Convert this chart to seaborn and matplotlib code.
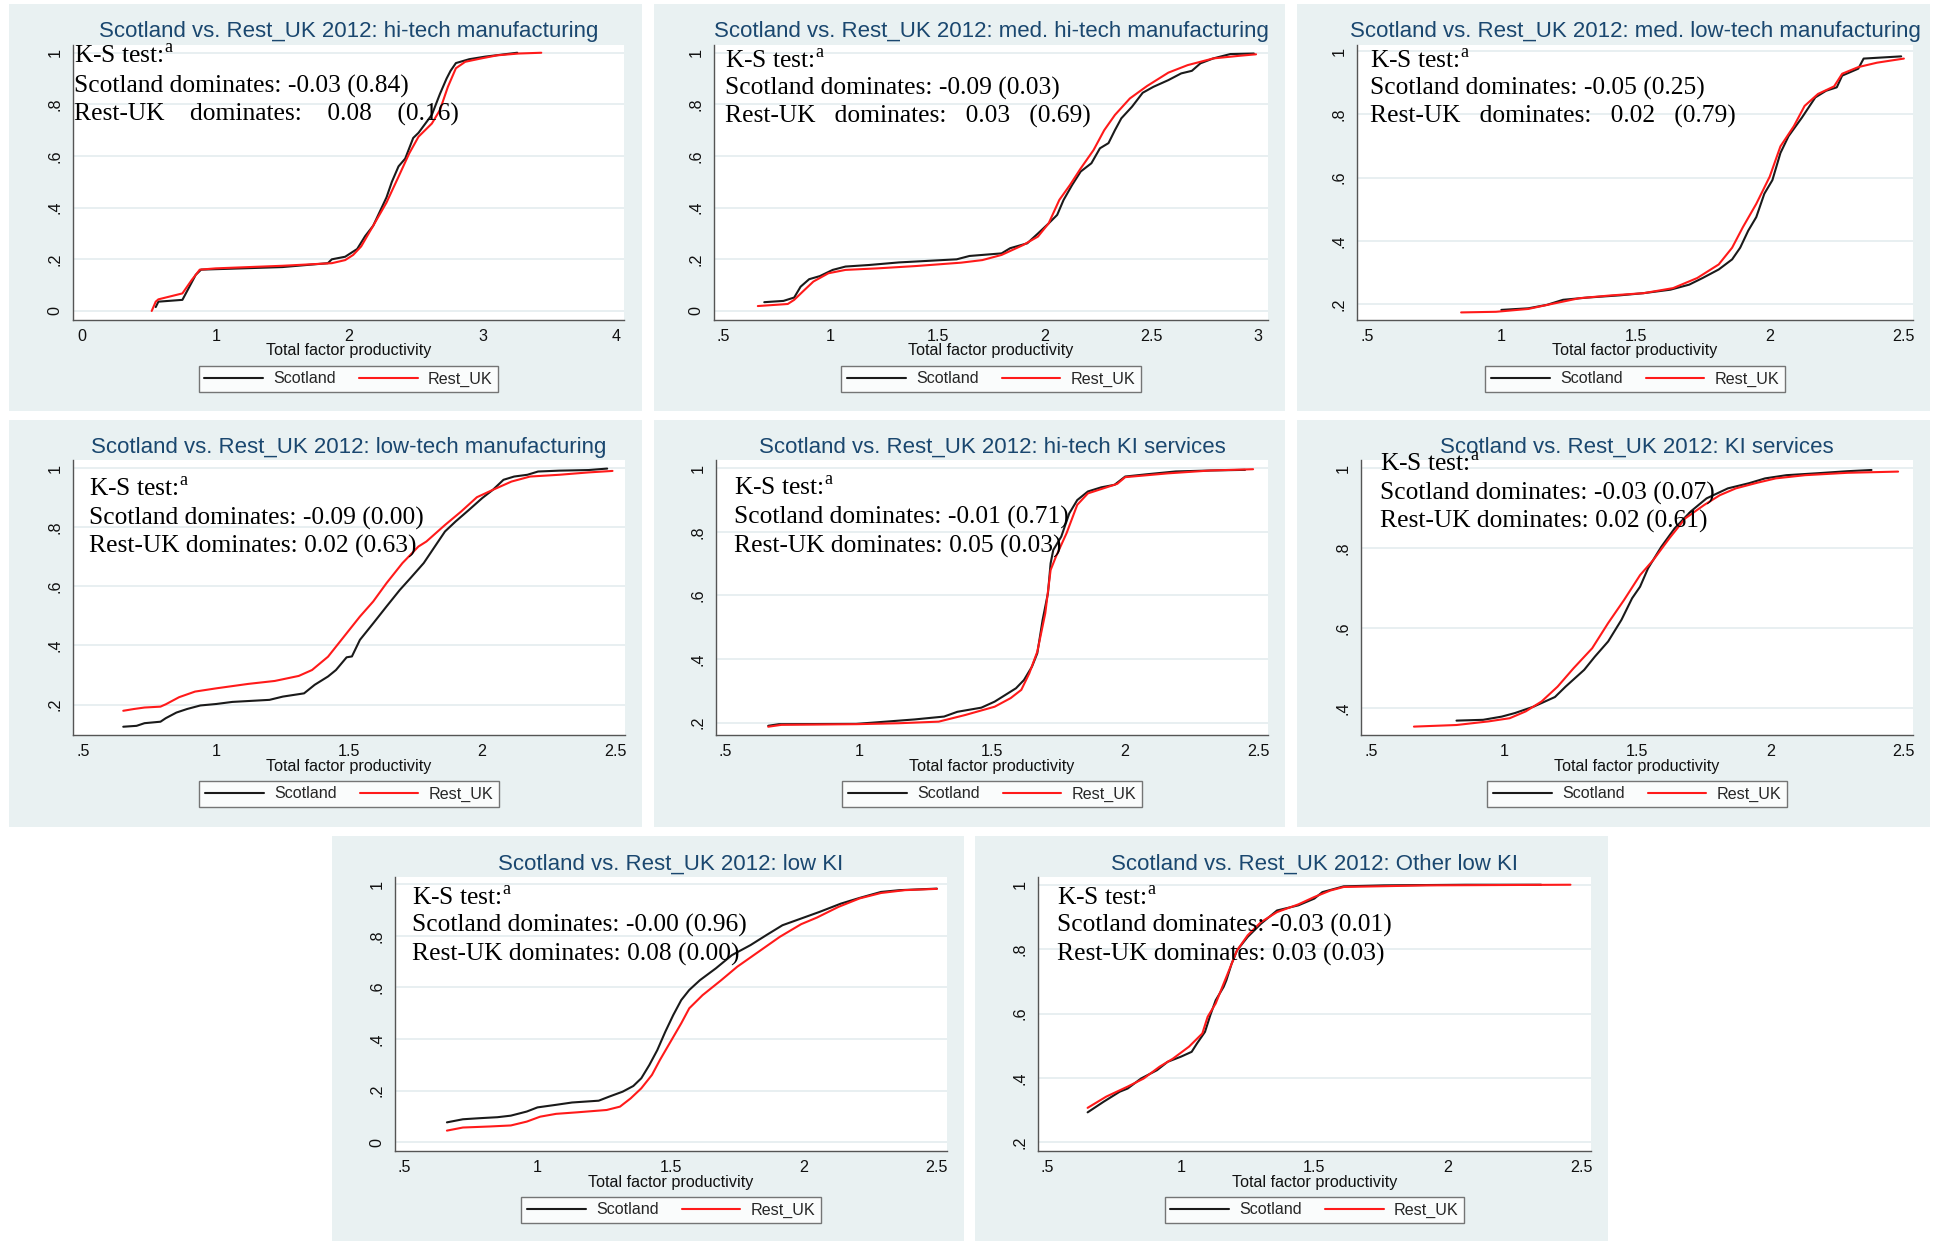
import numpy as np
import pandas as pd
import matplotlib
matplotlib.use("Agg")
import matplotlib.pyplot as plt
from matplotlib.patches import Rectangle
import seaborn as sns

# ---------------------------------------------------------------------------
# Empirical CDFs of total factor productivity, Scotland vs. rest of UK, 2012
# ---------------------------------------------------------------------------

# hi-tech manufacturing
hitech_mfg_scot_x = [0.55, 0.57, 0.75, 0.85, 0.89, 1.20, 1.50, 1.84, 1.87, 1.97, 2.06, 2.12, 2.18, 2.28,
                     2.32, 2.37, 2.42, 2.48, 2.52, 2.62, 2.68, 2.73, 2.76, 2.80, 2.90, 3.02, 3.26]
hitech_mfg_scot_y = [0.015, 0.036, 0.043, 0.14, 0.16, 0.165, 0.17, 0.185, 0.20, 0.21, 0.24, 0.29, 0.33, 0.44,
                     0.50, 0.56, 0.59, 0.67, 0.69, 0.76, 0.84, 0.90, 0.93, 0.96, 0.975, 0.985, 1.0]
hitech_mfg_ruk_x = [0.52, 0.55, 0.57, 0.75, 0.82, 0.88, 1.00, 1.50, 1.87, 1.97, 2.03, 2.09, 2.18, 2.28,
                    2.37, 2.45, 2.52, 2.62, 2.68, 2.74, 2.80, 2.87, 2.99, 3.11, 3.27, 3.44]
hitech_mfg_ruk_y = [0.0, 0.036, 0.045, 0.068, 0.12, 0.16, 0.165, 0.175, 0.185, 0.197, 0.217, 0.25, 0.33, 0.42,
                    0.52, 0.61, 0.675, 0.726, 0.778, 0.868, 0.94, 0.965, 0.978, 0.99, 0.997, 1.0]

# medium hi-tech manufacturing
medhi_mfg_scot_x = [0.69, 0.78, 0.83, 0.86, 0.90, 0.95, 1.01, 1.07, 1.18, 1.32, 1.59, 1.65, 1.80, 1.84, 1.92,
                    1.97, 2.02, 2.06, 2.09, 2.13, 2.17, 2.22, 2.26, 2.30, 2.33, 2.36, 2.41, 2.46, 2.51, 2.58,
                    2.64, 2.69, 2.73, 2.79, 2.87, 2.98]
medhi_mfg_scot_y = [0.034, 0.039, 0.052, 0.094, 0.123, 0.135, 0.159, 0.172, 0.178, 0.188, 0.200, 0.213, 0.223,
                    0.243, 0.262, 0.300, 0.339, 0.372, 0.430, 0.488, 0.540, 0.572, 0.630, 0.650, 0.700, 0.746,
                    0.791, 0.845, 0.868, 0.894, 0.920, 0.930, 0.959, 0.978, 0.995, 0.997]
medhi_mfg_ruk_x = [0.66, 0.80, 0.83, 0.87, 0.92, 0.99, 1.07, 1.22, 1.40, 1.61, 1.71, 1.80, 1.90, 1.97, 2.02,
                   2.07, 2.12, 2.17, 2.23, 2.28, 2.33, 2.40, 2.48, 2.58, 2.67, 2.79, 2.91, 2.99]
medhi_mfg_ruk_y = [0.019, 0.027, 0.043, 0.075, 0.114, 0.146, 0.159, 0.165, 0.174, 0.187, 0.197, 0.217, 0.255,
                   0.288, 0.339, 0.430, 0.488, 0.552, 0.623, 0.700, 0.759, 0.823, 0.871, 0.923, 0.952, 0.978,
                   0.988, 0.994]

# medium low-tech manufacturing
medlow_mfg_scot_x = [1.00, 1.10, 1.17, 1.23, 1.32, 1.44, 1.53, 1.63, 1.70, 1.75, 1.81, 1.86, 1.89, 1.92, 1.95,
                     1.98, 2.01, 2.04, 2.07, 2.12, 2.17, 2.21, 2.25, 2.27, 2.33, 2.35, 2.49]
medlow_mfg_scot_y = [0.181, 0.186, 0.197, 0.213, 0.220, 0.227, 0.234, 0.245, 0.261, 0.282, 0.309, 0.341, 0.378,
                     0.432, 0.475, 0.549, 0.592, 0.678, 0.731, 0.790, 0.854, 0.875, 0.886, 0.923, 0.945, 0.977,
                     0.984]
medlow_mfg_ruk_x = [0.85, 0.98, 1.10, 1.20, 1.29, 1.41, 1.53, 1.64, 1.73, 1.81, 1.86, 1.90, 1.95, 2.00, 2.04,
                    2.09, 2.13, 2.18, 2.24, 2.27, 2.33, 2.40, 2.50]
medlow_mfg_ruk_y = [0.173, 0.175, 0.184, 0.202, 0.218, 0.227, 0.234, 0.250, 0.282, 0.325, 0.378, 0.443, 0.517,
                    0.603, 0.699, 0.763, 0.827, 0.865, 0.889, 0.929, 0.950, 0.964, 0.977]

# low-tech manufacturing
lowtech_mfg_scot_x = [0.65, 0.70, 0.73, 0.79, 0.81, 0.85, 0.89, 0.94, 1.00, 1.06, 1.20, 1.25, 1.33, 1.37, 1.42,
                      1.45, 1.49, 1.51, 1.54, 1.59, 1.64, 1.69, 1.73, 1.78, 1.83, 1.86, 1.90, 1.95, 2.00, 2.04,
                      2.08, 2.12, 2.17, 2.21, 2.29, 2.40, 2.47]
lowtech_mfg_scot_y = [0.125, 0.128, 0.137, 0.142, 0.154, 0.173, 0.185, 0.197, 0.202, 0.209, 0.216, 0.227, 0.238,
                      0.267, 0.295, 0.317, 0.360, 0.363, 0.419, 0.475, 0.532, 0.588, 0.628, 0.679, 0.746, 0.786,
                      0.820, 0.859, 0.899, 0.927, 0.961, 0.972, 0.978, 0.989, 0.992, 0.994, 0.999]
lowtech_mfg_ruk_x = [0.65, 0.69, 0.73, 0.79, 0.81, 0.86, 0.92, 1.00, 1.12, 1.22, 1.31, 1.36, 1.42, 1.48, 1.54,
                     1.59, 1.64, 1.70, 1.76, 1.79, 1.86, 1.92, 1.98, 2.04, 2.11, 2.18, 2.29, 2.40, 2.49]
lowtech_mfg_ruk_y = [0.179, 0.185, 0.190, 0.193, 0.201, 0.225, 0.244, 0.255, 0.270, 0.280, 0.297, 0.317, 0.362,
                     0.430, 0.498, 0.549, 0.611, 0.679, 0.735, 0.752, 0.808, 0.853, 0.902, 0.927, 0.955, 0.972,
                     0.978, 0.986, 0.991]

# hi-tech knowledge-intensive services
hitech_ki_scot_x = [0.66, 0.70, 0.99, 1.07, 1.21, 1.32, 1.37, 1.46, 1.51, 1.55, 1.59, 1.62, 1.65, 1.67, 1.69,
                    1.71, 1.72, 1.73, 1.76, 1.79, 1.82, 1.86, 1.91, 1.96, 2.00, 2.08, 2.19, 2.32, 2.45]
hitech_ki_scot_y = [0.190, 0.195, 0.196, 0.201, 0.210, 0.219, 0.234, 0.247, 0.266, 0.287, 0.308, 0.334, 0.376,
                    0.418, 0.523, 0.607, 0.701, 0.743, 0.785, 0.858, 0.900, 0.927, 0.940, 0.948, 0.974, 0.981,
                    0.990, 0.993, 0.995]
hitech_ki_ruk_x = [0.66, 0.71, 0.99, 1.15, 1.30, 1.40, 1.51, 1.57, 1.61, 1.64, 1.67, 1.70, 1.72, 1.74, 1.78,
                   1.82, 1.86, 1.93, 1.97, 2.00, 2.16, 2.32, 2.48]
hitech_ki_ruk_y = [0.187, 0.193, 0.195, 0.198, 0.203, 0.224, 0.250, 0.277, 0.303, 0.355, 0.423, 0.544, 0.680,
                   0.722, 0.796, 0.885, 0.921, 0.940, 0.951, 0.972, 0.984, 0.993, 0.997]

# knowledge-intensive services
ki_serv_scot_x = [0.82, 0.92, 0.99, 1.04, 1.11, 1.19, 1.23, 1.30, 1.34, 1.39, 1.44, 1.48, 1.51, 1.54, 1.59,
                  1.64, 1.70, 1.76, 1.84, 1.92, 1.98, 2.06, 2.18, 2.29, 2.38]
ki_serv_scot_y = [0.369, 0.371, 0.379, 0.388, 0.404, 0.428, 0.454, 0.496, 0.529, 0.567, 0.621, 0.675, 0.704,
                  0.750, 0.804, 0.850, 0.892, 0.925, 0.950, 0.963, 0.975, 0.983, 0.988, 0.993, 0.996]
ki_serv_ruk_x = [0.66, 0.82, 0.94, 1.02, 1.08, 1.14, 1.20, 1.26, 1.33, 1.39, 1.45, 1.51, 1.56, 1.62, 1.68,
                 1.75, 1.81, 1.87, 1.95, 2.02, 2.13, 2.29, 2.48]
ki_serv_ruk_y = [0.354, 0.358, 0.367, 0.375, 0.392, 0.417, 0.454, 0.500, 0.550, 0.613, 0.671, 0.733, 0.771,
                 0.825, 0.875, 0.908, 0.933, 0.950, 0.964, 0.975, 0.983, 0.989, 0.992]

# low knowledge-intensive
low_ki_scot_x = [0.66, 0.72, 0.78, 0.85, 0.90, 0.96, 1.00, 1.07, 1.13, 1.23, 1.27, 1.32, 1.36, 1.39, 1.42,
                 1.45, 1.48, 1.51, 1.54, 1.57, 1.61, 1.67, 1.73, 1.80, 1.86, 1.92, 1.99, 2.06, 2.14, 2.21,
                 2.29, 2.36, 2.50]
low_ki_scot_y = [0.077, 0.089, 0.093, 0.097, 0.103, 0.119, 0.135, 0.145, 0.154, 0.161, 0.177, 0.196, 0.218,
                 0.248, 0.299, 0.357, 0.428, 0.493, 0.551, 0.590, 0.628, 0.674, 0.725, 0.764, 0.803, 0.841,
                 0.867, 0.893, 0.925, 0.947, 0.970, 0.977, 0.983]
low_ki_ruk_x = [0.66, 0.72, 0.82, 0.90, 0.96, 1.01, 1.07, 1.15, 1.26, 1.31, 1.35, 1.39, 1.43, 1.46, 1.50,
                1.54, 1.57, 1.62, 1.69, 1.75, 1.83, 1.91, 1.99, 2.05, 2.13, 2.21, 2.29, 2.38, 2.50]
low_ki_ruk_y = [0.045, 0.057, 0.061, 0.065, 0.080, 0.099, 0.110, 0.116, 0.125, 0.138, 0.170, 0.209, 0.261,
                0.319, 0.390, 0.461, 0.519, 0.570, 0.628, 0.680, 0.738, 0.796, 0.845, 0.871, 0.912, 0.945,
                0.966, 0.977, 0.982]

# other low knowledge-intensive
other_low_ki_scot_x = [0.65, 0.71, 0.77, 0.80, 0.85, 0.91, 0.95, 1.00, 1.04, 1.06, 1.09, 1.11, 1.13, 1.16,
                       1.17, 1.19, 1.21, 1.25, 1.30, 1.36, 1.44, 1.50, 1.53, 1.61, 1.76, 2.07, 2.35]
other_low_ki_scot_y = [0.293, 0.326, 0.357, 0.367, 0.398, 0.424, 0.450, 0.466, 0.481, 0.507, 0.543, 0.595,
                       0.641, 0.683, 0.703, 0.755, 0.796, 0.838, 0.879, 0.920, 0.936, 0.957, 0.977, 0.995,
                       0.998, 1.0, 1.0]
other_low_ki_ruk_x = [0.65, 0.72, 0.80, 0.86, 0.92, 0.97, 1.03, 1.08, 1.10, 1.13, 1.16, 1.18, 1.21, 1.25,
                      1.30, 1.36, 1.44, 1.50, 1.56, 1.61, 1.92, 2.46]
other_low_ki_ruk_y = [0.307, 0.342, 0.373, 0.398, 0.435, 0.460, 0.497, 0.538, 0.590, 0.631, 0.693, 0.734,
                      0.796, 0.843, 0.884, 0.915, 0.939, 0.962, 0.982, 0.993, 0.998, 1.0]

# panel titles
sectors = ["hi-tech manufacturing", "med. hi-tech manufacturing", "med. low-tech manufacturing",
           "low-tech manufacturing", "hi-tech KI services", "KI services", "low KI", "Other low KI"]

# Kolmogorov-Smirnov results: (statistic, p-value)
ks_scot = [("-0.03", "0.84"), ("-0.09", "0.03"), ("-0.05", "0.25"), ("-0.09", "0.00"),
           ("-0.01", "0.71"), ("-0.03", "0.07"), ("-0.00", "0.96"), ("-0.03", "0.01")]
ks_ruk = [("0.08", "0.16"), ("0.03", "0.69"), ("0.02", "0.79"), ("0.02", "0.63"),
          ("0.05", "0.03"), ("0.02", "0.61"), ("0.08", "0.00"), ("0.03", "0.03")]

# tick values and labels
x_ticks_0_4 = [0, 1, 2, 3, 4]
x_labels_0_4 = ["0", "1", "2", "3", "4"]
x_ticks_05_3 = [0.5, 1, 1.5, 2, 2.5, 3]
x_labels_05_3 = [".5", "1", "1.5", "2", "2.5", "3"]
x_ticks_05_25 = [0.5, 1, 1.5, 2, 2.5]
x_labels_05_25 = [".5", "1", "1.5", "2", "2.5"]
y_ticks_0 = [0, 0.2, 0.4, 0.6, 0.8, 1.0]
y_labels_0 = ["0", ".2", ".4", ".6", ".8", "1"]
y_ticks_02 = [0.2, 0.4, 0.6, 0.8, 1.0]
y_labels_02 = [".2", ".4", ".6", ".8", "1"]
y_ticks_04 = [0.4, 0.6, 0.8, 1.0]
y_labels_04 = [".4", ".6", ".8", "1"]

series = [
    (hitech_mfg_scot_x, hitech_mfg_scot_y, hitech_mfg_ruk_x, hitech_mfg_ruk_y),
    (medhi_mfg_scot_x, medhi_mfg_scot_y, medhi_mfg_ruk_x, medhi_mfg_ruk_y),
    (medlow_mfg_scot_x, medlow_mfg_scot_y, medlow_mfg_ruk_x, medlow_mfg_ruk_y),
    (lowtech_mfg_scot_x, lowtech_mfg_scot_y, lowtech_mfg_ruk_x, lowtech_mfg_ruk_y),
    (hitech_ki_scot_x, hitech_ki_scot_y, hitech_ki_ruk_x, hitech_ki_ruk_y),
    (ki_serv_scot_x, ki_serv_scot_y, ki_serv_ruk_x, ki_serv_ruk_y),
    (low_ki_scot_x, low_ki_scot_y, low_ki_ruk_x, low_ki_ruk_y),
    (other_low_ki_scot_x, other_low_ki_scot_y, other_low_ki_ruk_x, other_low_ki_ruk_y),
]

# ---------------------------------------------------------------------------
# layout (pixels, origin top-left)
# ---------------------------------------------------------------------------
W, H = 1937, 1241
panel_boxes = [(9, 4, 642, 411), (654, 4, 1285, 411), (1297, 4, 1930, 411),
               (9, 420, 642, 827), (654, 420, 1285, 827), (1297, 420, 1930, 827),
               (332, 836, 964, 1241), (975, 836, 1608, 1241)]
axes_boxes = [(73, 45, 624, 320), (714, 45, 1268, 320), (1357, 45, 1913, 320),
              (73, 460, 625, 735), (716, 460, 1268, 735), (1361, 460, 1913, 735),
              (395, 877, 947, 1151), (1038, 877, 1591, 1151)]
xlims = [(-0.07, 4.06), (0.455, 3.046), (0.462, 2.534), (0.461, 2.537),
         (0.464, 2.536), (0.461, 2.536), (0.465, 2.538), (0.464, 2.537)]
ylims = [(-0.035, 1.03), (-0.035, 1.03), (0.149, 1.02), (0.097, 1.028),
         (0.161, 1.026), (0.333, 1.021), (-0.034, 1.028), (0.173, 1.024)]
xtick_sets = [(x_ticks_0_4, x_labels_0_4), (x_ticks_05_3, x_labels_05_3)] + [(x_ticks_05_25, x_labels_05_25)] * 6
ytick_sets = [(y_ticks_0, y_labels_0), (y_ticks_0, y_labels_0), (y_ticks_02, y_labels_02),
              (y_ticks_02, y_labels_02), (y_ticks_02, y_labels_02), (y_ticks_04, y_labels_04),
              (y_ticks_0, y_labels_0), (y_ticks_02, y_labels_02)]
note_pos = [(74, 55, 85, 113), (725, 60, 87, 115), (1370, 60, 87, 115),
            (89, 488, 517, 545), (734, 487, 516, 545), (1380, 463, 492, 520),
            (412, 897, 924, 953), (1057, 897, 924, 953)]
gap_spaces = [4, 3, 3, 1, 1, 1, 1, 1]

PANEL_BG = "#e9f1f2"
GRID = "#e6eef0"
TITLE = "#1a476f"
AXIS = "#555555"
BLACK = "#1a1a1a"
RED = "#ff1a1a"
SANS = ["Liberation Sans", "DejaVu Sans"]
SERIF = ["Liberation Serif", "DejaVu Serif"]

sns.set_theme(style="white")
plt.rcParams["font.family"] = SANS
plt.rcParams["mathtext.fontset"] = "custom"
plt.rcParams["mathtext.rm"] = "Liberation Serif"

fig = plt.figure(figsize=(W / 100, H / 100), dpi=100)
fig.patch.set_facecolor("white")


def fx(px):
    return px / W


def fy(py):
    return 1 - py / H


for i in range(8):
    l, t, r, b = panel_boxes[i]
    fig.patches.append(Rectangle((fx(l), fy(b)), (r - l) / W, (b - t) / H, transform=fig.transFigure,
                                 facecolor=PANEL_BG, edgecolor="none", zorder=-1))

    al, at, ar, ab = axes_boxes[i]
    ax_h = ab - at
    ax = fig.add_axes([fx(al), fy(ab), (ar - al) / W, ax_h / H])
    ax.set_facecolor("white")

    sx, sy, rx, ry = series[i]
    df = pd.DataFrame({
        "tfp": list(sx) + list(rx),
        "cdf": list(sy) + list(ry),
        "region": ["Scotland"] * len(sx) + ["Rest_UK"] * len(rx),
    })
    sns.lineplot(data=df, x="tfp", y="cdf", hue="region", hue_order=["Scotland", "Rest_UK"],
                 palette={"Scotland": BLACK, "Rest_UK": RED}, estimator=None, sort=False,
                 linewidth=1.5, ax=ax)

    ax.set_xlim(*xlims[i])
    ax.set_ylim(*ylims[i])
    xt, xl = xtick_sets[i]
    yt, yl = ytick_sets[i]
    ax.set_xticks(xt, labels=xl)
    ax.set_yticks(yt, labels=yl, rotation=90, va="center")

    for side in ("top", "right"):
        ax.spines[side].set_visible(False)
    for side in ("left", "bottom"):
        ax.spines[side].set_color(AXIS)
        ax.spines[side].set_linewidth(1.0)
    ax.tick_params(axis="both", direction="out", length=3.6, width=1.0, color=AXIS,
                   labelsize=11.6, labelcolor="#111111")
    ax.tick_params(axis="x", pad=3)
    ax.tick_params(axis="y", pad=4)
    ax.yaxis.grid(True, color=GRID, linewidth=1.3)
    ax.xaxis.grid(False)
    ax.set_axisbelow(True)

    ax.set_ylabel("")
    ax.set_xlabel("Total factor productivity", fontsize=11.6, color="#111111")
    ax.xaxis.set_label_coords(0.5, -31 / ax_h)
    ax.xaxis.label.set_va("center")

    ax.text(0.5, 1 + 13 / ax_h, "Scotland vs. Rest_UK 2012: " + sectors[i], transform=ax.transAxes,
            ha="center", va="center", fontsize=16, color=TITLE)

    sns.move_legend(ax, "center", bbox_to_anchor=(0.5, -59 / ax_h), ncol=2, title=None,
                    frameon=True, fancybox=False, fontsize=11.6, handlelength=3.66,
                    handletextpad=0.62, columnspacing=1.43, borderpad=0.35)
    leg = ax.get_legend()
    leg.get_frame().set_edgecolor("#555555")
    leg.get_frame().set_linewidth(1.0)
    leg.get_frame().set_facecolor("white")
    for h in leg.legend_handles:
        h.set_linewidth(1.5)

    tx, y1, y2, y3 = note_pos[i]
    gap = " " * gap_spaces[i]
    lines = [
        "K-S test:$^{\\mathregular{a}}$",
        f"Scotland dominates: {ks_scot[i][0]} ({ks_scot[i][1]})",
        f"Rest-UK{gap}dominates:{gap}{ks_ruk[i][0]}{gap}({ks_ruk[i][1]})",
    ]
    for txt, yy in zip(lines, (y1, y2, y3)):
        fig.text(fx(tx), fy(yy + 8), txt, fontsize=18.4, family=SERIF, ha="left", va="baseline",
                 color="black")

fig.savefig("out.png", dpi=100, facecolor="white")
